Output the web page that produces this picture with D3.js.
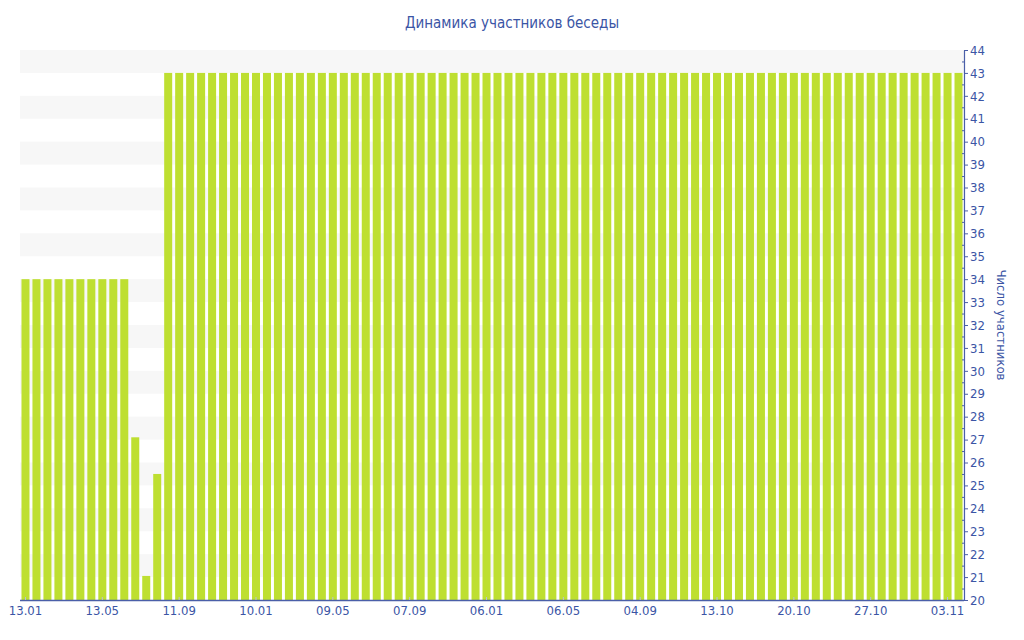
<!DOCTYPE html>
<html>
<head>
<meta charset="utf-8">
<script src="https://cdn.jsdelivr.net/npm/d3@7"></script>
<style>
  html, body { margin: 0; padding: 0; background: #ffffff; }
  svg text { font-family: "DejaVu Sans Condensed", "DejaVu Sans", sans-serif; }
</style>
</head>
<body>
<svg id="chart" width="1024" height="640"></svg>
<script>
// ---- data ----
const title = "Динамика участников беседы";
const yTitle = "Число участников";
const values = [
  34, 34, 34, 34, 34, 34, 34, 34, 34, 34,
  27.1, 21.05, 25.5,
  43, 43, 43, 43, 43, 43, 43, 43, 43, 43,
  43, 43, 43, 43, 43, 43, 43, 43, 43, 43,
  43, 43, 43, 43, 43, 43, 43, 43, 43, 43,
  43, 43, 43, 43, 43, 43, 43, 43, 43, 43,
  43, 43, 43, 43, 43, 43, 43, 43, 43, 43,
  43, 43, 43, 43, 43, 43, 43, 43, 43, 43,
  43, 43, 43, 43, 43, 43, 43, 43, 43, 43,
  43, 43, 43
];
// x tick labels, one every 7 bars starting at bar 0
const tickLabels = ["13.01", "13.05", "11.09", "10.01", "09.05", "07.09", "06.01",
                    "06.05", "04.09", "13.10", "20.10", "27.10", "03.11"];
const tickEvery = 7;
const yMin = 20, yMax = 44;

// ---- layout ----
const svg = d3.select("#chart");
const mLeft = 20, mRight = 964, mTop = 50, mBottom = 600;
const blue = "#3b55a5";
const axisBlue = "#4a5fa8";

const categories = d3.range(values.length);
const x = d3.scaleBand().domain(categories).range([mLeft, mRight])
  .paddingInner(0.27).paddingOuter(0.135);
const y = d3.scaleLinear().domain([yMin, yMax]).range([mBottom, mTop]);

// stripes
const stripeLows = d3.range(yMin + 1, yMax, 2);
svg.append("g").selectAll("rect").data(stripeLows).join("rect")
  .attr("x", mLeft).attr("width", mRight - mLeft)
  .attr("y", d => y(d + 1)).attr("height", d => y(d) - y(d + 1))
  .attr("fill", "#f7f7f7");

// bars
svg.append("g").selectAll("rect").data(values).join("rect")
  .attr("x", (d, i) => x(i))
  .attr("width", x.bandwidth())
  .attr("y", d => y(d))
  .attr("height", d => y(yMin) - y(d))
  .attr("fill", "#bedf31");

// x axis
const tickIdx = tickLabels.map((t, k) => k * tickEvery);
const xAxis = d3.axisBottom(x).tickValues(tickIdx)
  .tickFormat(i => tickLabels[i / tickEvery]).tickSizeInner(-3).tickSizeOuter(0).tickPadding(6);
const gx = svg.append("g").attr("transform", `translate(0,${mBottom})`).call(xAxis);
gx.select(".domain").attr("stroke", axisBlue).attr("stroke-width", 1.5)
  .attr("d", `M${mLeft},0.5H${mRight}`);
gx.selectAll(".tick line").attr("stroke", "#b8bfd8");
gx.selectAll(".tick text").attr("fill", blue).attr("font-size", 13)
  .attr("font-family", "DejaVu Sans Condensed, DejaVu Sans, sans-serif");

// y axis (right)
const yAxis = d3.axisRight(y).ticks(yMax - yMin).tickSizeInner(4).tickSizeOuter(0).tickPadding(2);
const gy = svg.append("g").attr("transform", `translate(${mRight},0)`).call(yAxis);
gy.select(".domain").attr("stroke", axisBlue).attr("stroke-width", 1.2);
gy.selectAll(".tick line").attr("stroke", axisBlue);
gy.selectAll(".tick text").attr("fill", blue).attr("font-size", 13)
  .attr("font-family", "DejaVu Sans Condensed, DejaVu Sans, sans-serif");
// minor ticks
const minor = d3.range(yMin + 0.5, yMax, 1);
gy.append("g").selectAll("line").data(minor).join("line")
  .attr("x1", -2).attr("x2", 0)
  .attr("y1", d => y(d) + 0.5).attr("y2", d => y(d) + 0.5)
  .attr("stroke", axisBlue);

// y title
svg.append("text")
  .attr("transform", `translate(1000,${(mTop + mBottom) / 2}) rotate(90)`)
  .attr("text-anchor", "middle").attr("dominant-baseline", "middle")
  .attr("fill", blue).attr("font-size", 13)
  .text(yTitle);

// title
svg.append("text")
  .attr("x", 512).attr("y", 28)
  .attr("text-anchor", "middle")
  .attr("fill", blue).attr("font-size", 15)
  .text(title);
</script>
</body>
</html>
